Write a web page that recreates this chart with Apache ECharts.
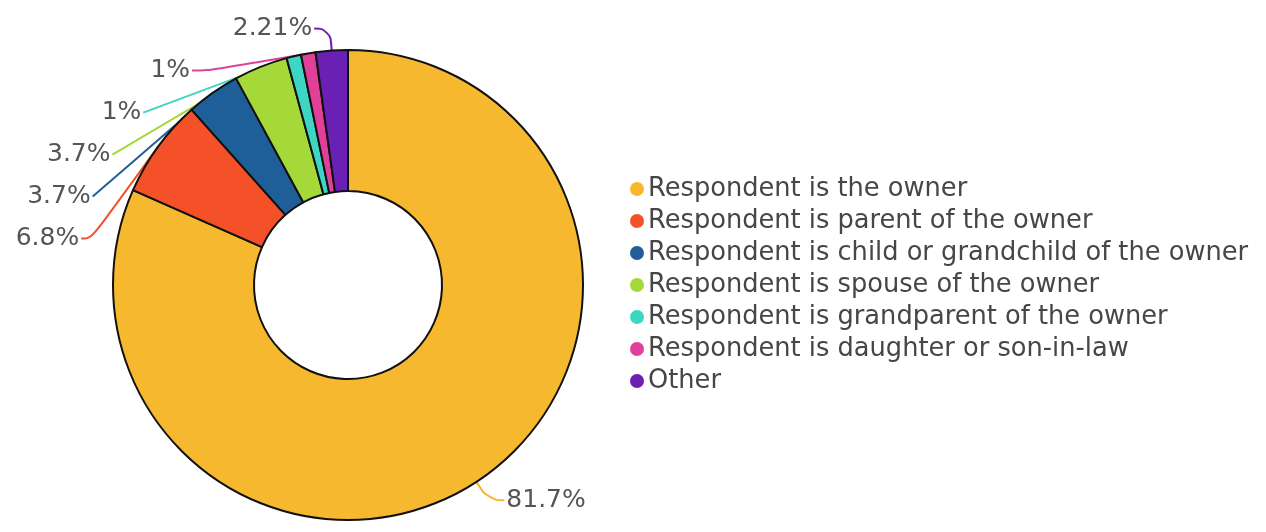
<!DOCTYPE html>
<html><head><meta charset="utf-8">
<script src="https://cdn.jsdelivr.net/npm/echarts@6/dist/echarts.min.js"></script>
<style>html,body{margin:0;padding:0;background:#fff}#c{width:1266px;height:532px}</style>
</head><body><div id="c"></div>
<script>
const categories = ["Respondent is the owner","Respondent is parent of the owner","Respondent is child or grandchild of the owner","Respondent is spouse of the owner","Respondent is grandparent of the owner","Respondent is daughter or son-in-law","Other"];
const values = [81.7, 6.8, 3.7, 3.7, 1, 1, 2.21];
const colors = ["#F5B82E","#F45128","#1F5F99","#A5D93A","#3DD6C2","#E0409A","#6A1FB5"];
const chart = echarts.init(document.getElementById('c'));
chart.setOption({
  animation:false,
  color: colors,
  legend:{orient:'vertical', left:625, top:171, itemGap:6, icon:'circle', itemWidth:14, itemHeight:14,
    itemStyle:{borderWidth:0},
    textStyle:{fontFamily:'DejaVu Sans', fontSize:25.7, lineHeight:26, color:'#464646', padding:[0,0,0,-1]}, data:categories},
  series:[{type:'pie', center:[348,285], radius:[94,235], startAngle:90, clockwise:true,
    data: categories.map((n,i)=>({name:n, value:values[i]})),
    itemStyle:{borderColor:'#111', borderWidth:2},
    label:{formatter: p=>p.value+'%', fontFamily:'DejaVu Sans', fontSize:25, lineHeight:40, color:'#555', distanceToLabelLine:2, overflow:'none'},
    labelLine:{smooth:0.5, length:22, length2:16, lineStyle:{width:2}}
  }]
});
</script></body></html>
